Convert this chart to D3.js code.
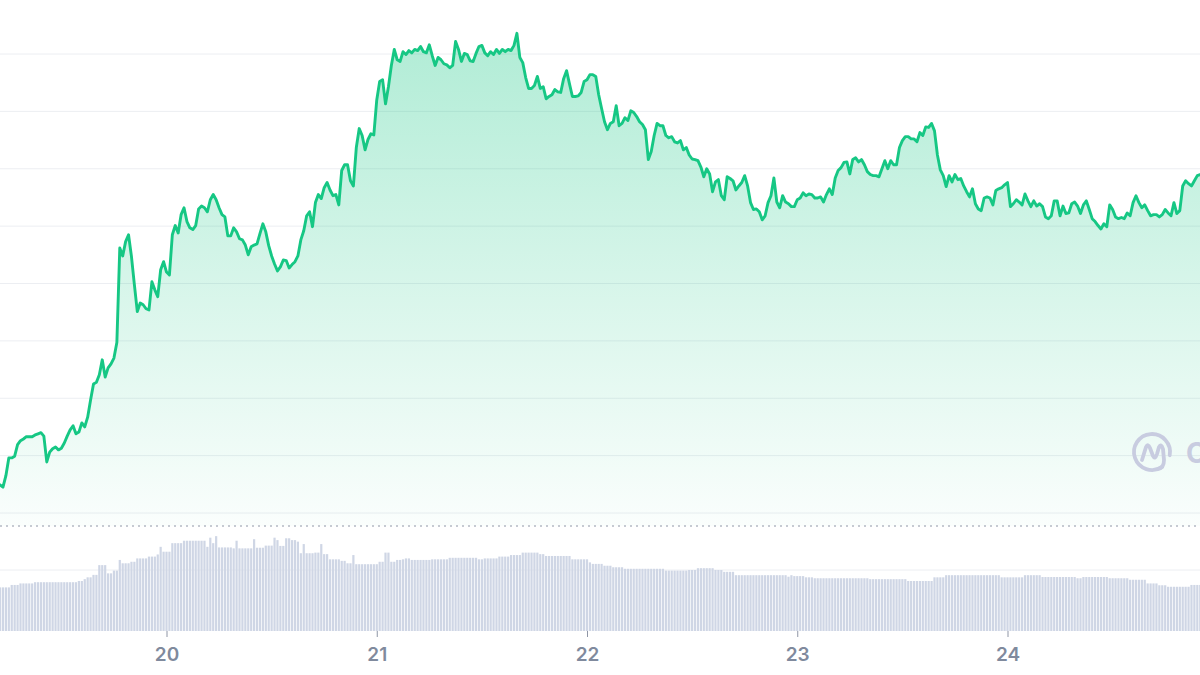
<!DOCTYPE html>
<html>
<head>
<meta charset="utf-8">
<script src="https://cdn.jsdelivr.net/npm/d3@7"></script>
<style>
  body { margin: 0; background: #fff; }
  svg { display: block; }
</style>
</head>
<body>
<div id="chart"></div>
<script>
// 20 minute candles starting 19th 05:00
const start = new Date(2022, 4, 19, 5, 0);
const stepMinutes = 20;

const prices = [
  104.9, 104.5, 106.5, 109.6, 109.6, 109.9, 111.9, 112.6, 112.9, 113.3,
  113.3, 113.3, 113.6, 113.8, 114.0, 113.4, 108.9, 110.6, 111.2, 111.5,
  111.0, 111.3, 112.2, 113.4, 114.5, 115.2, 113.8, 114.1, 115.7, 115.0,
  116.7, 119.7, 122.5, 122.8, 124.1, 126.7, 123.7, 125.3, 126.0, 127.0,
  129.7, 146.2, 144.8, 147.3, 148.5, 144.7, 139.8, 135.1, 136.6, 136.3,
  135.6, 135.4, 140.3, 138.9, 137.7, 142.4, 143.8, 142.0, 141.5, 148.5,
  150.1, 148.8, 152.0, 153.2, 150.8, 149.7, 149.4, 150.1, 153.0, 153.5,
  153.2, 152.5, 154.6, 155.5, 154.6, 153.2, 152.0, 151.6, 148.3, 148.3,
  149.7, 149.0, 147.8, 147.6, 146.7, 145.0, 146.4, 146.7, 146.9, 148.7,
  150.4, 149.0, 146.6, 144.8, 143.4, 142.2, 142.9, 144.1, 144.0, 142.7,
  143.3, 143.8, 144.8, 147.6, 149.2, 151.8, 152.5, 149.9, 154.1, 155.5,
  154.8, 156.7, 157.6, 156.3, 155.3, 155.5, 153.7, 159.7, 160.7, 160.7,
  157.9, 157.0, 163.7, 167.0, 165.8, 163.3, 165.1, 166.1, 165.9, 172.0,
  175.2, 175.5, 171.3, 174.3, 178.0, 180.8, 179.0, 178.7, 180.4, 179.9,
  180.6, 180.2, 180.8, 180.6, 181.3, 180.4, 180.2, 181.6, 179.7, 178.0,
  179.4, 179.0, 178.3, 178.1, 177.6, 178.0, 182.2, 180.8, 178.7, 180.1,
  179.9, 178.8, 178.7, 180.1, 181.3, 181.5, 180.2, 179.7, 180.4, 179.9,
  180.8, 180.1, 180.8, 180.4, 180.8, 180.6, 181.5, 183.6, 179.4, 178.5,
  175.9, 174.0, 174.0, 174.5, 176.1, 174.0, 174.3, 172.2, 172.6, 172.9,
  173.8, 173.4, 173.3, 175.7, 177.1, 174.8, 172.6, 172.6, 172.7, 173.3,
  175.2, 175.5, 176.4, 176.4, 176.1, 172.9, 170.5, 168.2, 166.8, 167.9,
  168.2, 171.0, 167.5, 167.9, 168.9, 168.4, 170.1, 169.8, 169.1, 168.2,
  167.7, 166.8, 161.6, 163.0, 165.8, 167.9, 167.5, 167.5, 165.8, 165.4,
  165.6, 164.7, 164.5, 164.9, 163.3, 163.7, 162.4, 161.7, 161.6, 161.4,
  160.3, 158.6, 160.0, 159.1, 156.0, 157.7, 158.1, 155.3, 154.6, 158.6,
  158.3, 157.9, 156.3, 157.0, 157.6, 158.8, 157.0, 154.1, 152.9, 153.0,
  152.5, 151.1, 151.8, 154.1, 155.3, 158.4, 154.2, 153.2, 155.3, 154.2,
  153.9, 153.4, 153.4, 154.6, 154.9, 155.8, 155.3, 155.6, 155.5, 154.9,
  154.9, 155.1, 154.2, 155.5, 156.5, 155.5, 158.4, 159.7, 160.2, 161.1,
  161.2, 159.1, 161.6, 161.9, 161.2, 161.6, 160.7, 159.5, 159.0, 158.8,
  158.8, 158.6, 160.0, 161.4, 160.0, 161.4, 160.7, 160.7, 163.7, 164.9,
  165.6, 165.6, 165.2, 165.2, 164.7, 166.3, 165.8, 167.3, 167.2, 167.9,
  166.6, 162.4, 159.8, 158.8, 156.9, 158.8, 157.7, 159.0, 158.1, 158.3,
  157.0, 156.0, 155.1, 156.5, 153.9, 153.0, 152.7, 154.9, 155.1, 154.9,
  153.7, 156.2, 156.5, 156.7, 157.2, 157.6, 153.4, 153.9, 154.6, 154.2,
  153.7, 155.6, 154.4, 153.4, 154.4, 153.5, 153.9, 153.4, 151.6, 151.3,
  151.8, 154.4, 154.4, 151.8, 153.5, 152.2, 152.3, 153.9, 154.2, 153.5,
  152.2, 153.7, 154.4, 152.9, 151.3, 150.8, 150.1, 149.5, 150.4, 149.9,
  153.7, 152.9, 151.6, 151.3, 151.5, 151.3, 152.3, 151.8, 154.1, 155.3,
  154.1, 153.2, 153.7, 152.7, 151.8, 152.0, 152.0, 151.6, 152.0, 152.9,
  152.3, 151.8, 154.1, 152.2, 152.7, 157.0, 157.9, 157.4, 157.0, 157.9,
  158.8, 159.0
];

const volumes = [
  14.3, 14.3, 14.3, 14.3, 15.1, 15.1, 15.1, 15.6, 15.6, 15.6,
  15.6, 15.6, 16.0, 16.0, 16.0, 16.0, 16.0, 16.0, 16.0, 16.0,
  16.0, 16.0, 16.0, 16.0, 16.0, 16.0, 16.0, 16.4, 16.4, 17.0,
  17.6, 17.6, 18.4, 18.4, 21.6, 21.6, 21.6, 18.9, 18.9, 19.8,
  19.8, 23.3, 22.2, 22.2, 22.2, 22.7, 22.7, 23.8, 23.8, 23.8,
  23.8, 24.4, 24.4, 24.4, 25.1, 27.6, 26.0, 26.0, 26.0, 28.8,
  28.8, 28.8, 28.8, 29.6, 29.6, 29.6, 29.6, 29.6, 29.6, 29.6,
  29.6, 27.6, 30.6, 28.8, 31.1, 27.4, 27.4, 27.4, 27.4, 27.4,
  27.1, 29.6, 27.1, 27.1, 27.1, 27.1, 27.1, 30.1, 27.3, 27.3,
  27.3, 28.0, 28.0, 28.0, 30.6, 29.8, 27.9, 27.9, 30.4, 30.4,
  29.8, 29.8, 29.3, 25.5, 28.5, 25.5, 25.5, 25.5, 25.7, 25.7,
  28.5, 25.2, 25.2, 23.5, 23.5, 23.5, 23.5, 23.0, 23.0, 22.2,
  22.2, 24.9, 21.9, 21.9, 21.9, 21.9, 21.9, 21.9, 21.9, 21.9,
  22.7, 22.7, 25.7, 25.7, 22.7, 22.7, 23.3, 23.3, 23.5, 23.8,
  23.8, 23.3, 23.3, 23.3, 23.3, 23.3, 23.3, 23.3, 23.5, 23.5,
  23.5, 23.5, 23.5, 23.5, 24.0, 24.0, 24.0, 24.0, 24.0, 24.0,
  24.0, 24.0, 24.0, 24.0, 23.5, 23.5, 23.8, 23.8, 23.8, 23.8,
  23.8, 24.4, 24.4, 24.4, 24.4, 24.9, 24.9, 24.9, 24.9, 25.7,
  25.7, 25.7, 25.7, 25.7, 25.7, 25.2, 25.2, 24.6, 24.6, 24.6,
  24.6, 24.6, 24.6, 24.6, 24.6, 24.6, 23.5, 23.5, 23.5, 23.5,
  23.5, 23.5, 22.5, 22.0, 22.0, 22.0, 22.0, 21.4, 21.4, 21.4,
  20.9, 20.9, 20.9, 20.9, 20.4, 20.4, 20.4, 20.4, 20.4, 20.4,
  20.4, 20.4, 20.4, 20.4, 20.4, 20.4, 20.4, 20.4, 19.8, 19.8,
  19.8, 19.8, 19.8, 19.8, 19.8, 19.8, 20.0, 20.0, 20.0, 20.6,
  20.6, 20.6, 20.6, 20.6, 20.6, 20.0, 20.0, 20.0, 19.4, 19.4,
  19.4, 19.4, 18.3, 18.3, 18.3, 18.3, 18.3, 18.3, 18.3, 18.3,
  18.3, 18.3, 18.3, 18.3, 18.3, 18.3, 18.3, 18.3, 18.3, 18.3,
  17.8, 18.3, 18.0, 18.0, 18.0, 18.0, 17.6, 17.6, 17.6, 17.3,
  17.3, 17.3, 17.3, 17.3, 17.3, 17.3, 17.3, 17.3, 17.3, 17.3,
  17.3, 17.3, 17.3, 17.3, 17.3, 17.3, 17.3, 17.3, 17.0, 17.0,
  17.0, 17.0, 17.0, 17.0, 17.0, 17.0, 17.0, 17.0, 17.0, 17.0,
  17.0, 16.4, 16.4, 16.4, 16.4, 16.4, 16.4, 16.4, 16.4, 16.4,
  17.6, 17.6, 17.6, 17.6, 18.3, 18.3, 18.3, 18.3, 18.3, 18.3,
  18.3, 18.3, 18.3, 18.3, 18.3, 18.3, 18.3, 18.3, 18.3, 18.3,
  18.3, 18.3, 18.3, 17.6, 17.6, 17.6, 17.6, 17.6, 17.6, 17.6,
  17.6, 18.3, 18.3, 18.3, 18.3, 18.3, 18.3, 17.7, 17.7, 17.7,
  17.7, 17.7, 17.7, 17.7, 17.7, 17.7, 17.7, 17.7, 17.7, 17.3,
  17.3, 17.7, 17.7, 17.7, 17.7, 17.7, 17.7, 17.7, 17.7, 17.7,
  17.3, 17.3, 17.3, 17.3, 17.3, 17.3, 17.3, 16.8, 16.8, 16.8,
  16.8, 16.8, 16.8, 15.6, 15.6, 15.6, 15.6, 15.0, 15.0, 15.0,
  14.5, 14.5, 14.5, 14.5, 14.5, 14.5, 14.5, 14.5, 15.1, 15.1,
  15.1, 15.1
];

const dayTicks = [20, 21, 22, 23, 24];
const priceTicks = [100, 110, 120, 130, 140, 150, 160, 170, 180];
const volumeTicks = [20];

const data = prices.map((p, i) => ({
  t: new Date(start.getTime() + i * stepMinutes * 60000),
  price: p,
  volume: volumes[i]
}));

const width = 1200;
const height = 675;
const paneBottom = 526;
const volBottom = 631;

const svg = d3.select("#chart")
  .append("svg")
  .attr("width", width)
  .attr("height", height);

const x = d3.scaleTime()
  .domain([new Date(2022, 4, 19), new Date(2022, 4, 25)])
  .range([-43.75, 1217.75]);

const y = d3.scaleLinear()
  .domain([100, 180])
  .range([513, 54]);

const yVol = d3.scaleLinear()
  .domain([0, 20])
  .range([volBottom, 570]);

// gradient under the line
const defs = svg.append("defs");
const grad = defs.append("linearGradient")
  .attr("id", "areaGrad")
  .attr("gradientUnits", "userSpaceOnUse")
  .attr("x1", 0).attr("x2", 0)
  .attr("y1", 30).attr("y2", paneBottom);
grad.append("stop").attr("offset", "0%").attr("stop-color", "#16c784").attr("stop-opacity", 0.34);
grad.append("stop").attr("offset", "55%").attr("stop-color", "#16c784").attr("stop-opacity", 0.16);
grad.append("stop").attr("offset", "100%").attr("stop-color", "#16c784").attr("stop-opacity", 0.02);

// grid
svg.append("g")
  .selectAll("line")
  .data(priceTicks)
  .enter()
  .append("line")
  .attr("x1", 0)
  .attr("x2", width)
  .attr("y1", d => y(d))
  .attr("y2", d => y(d))
  .attr("stroke", "#eceef2")
  .attr("stroke-width", 1);

svg.append("g")
  .selectAll("line")
  .data(volumeTicks)
  .enter()
  .append("line")
  .attr("x1", 0)
  .attr("x2", width)
  .attr("y1", d => yVol(d))
  .attr("y2", d => yVol(d))
  .attr("stroke", "#eceef2")
  .attr("stroke-width", 1);

const area = d3.area()
  .x(d => x(d.t))
  .y0(paneBottom)
  .y1(d => y(d.price));

svg.append("path")
  .datum(data)
  .attr("d", area)
  .attr("fill", "url(#areaGrad)");

// watermark (cut by the right edge, like the original)
const wm = svg.append("g")
  .attr("transform", "translate(1152,452)")
  .attr("fill", "none")
  .attr("stroke", "#c8cce0")
  .attr("stroke-width", 3.8)
  .attr("stroke-linecap", "round")
  .attr("stroke-linejoin", "round");
wm.append("path")
  .attr("d", d3.arc()({ innerRadius: 18, outerRadius: 18, startAngle: 2.55, endAngle: 2 * Math.PI + 1.75 }));
wm.append("path")
  .attr("d", "M -10 8 L -6 -5 Q -4 -9 -2 -4 L 1 4 Q 3 8 5 2 L 7 -5 Q 9 -9 11 -3 L 12 8 Q 12 16 6 17");
svg.append("text")
  .attr("x", 1186)
  .attr("y", 463)
  .attr("font-family", "Inter, 'Noto Sans', sans-serif")
  .attr("font-size", 28)
  .attr("font-weight", 700)
  .attr("fill", "#c8cce0")
  .text("CoinMarketCap");

// separator between panes
svg.append("line")
  .attr("x1", 0)
  .attr("x2", width)
  .attr("y1", paneBottom)
  .attr("y2", paneBottom)
  .attr("stroke", "#b4b9c4")
  .attr("stroke-width", 1.5)
  .attr("stroke-dasharray", "2,4");

// volume
svg.append("g")
  .selectAll("rect")
  .data(data)
  .enter()
  .append("rect")
  .attr("x", d => x(d.t) - 1.1)
  .attr("width", 2.2)
  .attr("y", d => yVol(d.volume))
  .attr("height", d => volBottom - yVol(d.volume))
  .attr("fill", "#cfd6e5");

const line = d3.line()
  .x(d => x(d.t))
  .y(d => y(d.price));

svg.append("path")
  .datum(data)
  .attr("d", line)
  .attr("fill", "none")
  .attr("stroke", "#16c784")
  .attr("stroke-width", 2.9)
  .attr("stroke-linejoin", "round")
  .attr("stroke-linecap", "round");

const xAxis = d3.axisBottom(x)
  .tickValues(dayTicks.map(d => new Date(2022, 4, d)))
  .tickFormat(d3.timeFormat("%d"))
  .tickSize(6)
  .tickPadding(11);

const gx = svg.append("g")
  .attr("transform", `translate(0, ${volBottom})`)
  .call(xAxis);
gx.select(".domain").remove();
gx.selectAll(".tick line").attr("stroke", "#8f96a6");
gx.selectAll(".tick text")
  .attr("fill", "#808a9d")
  .attr("font-family", "Inter, 'Noto Sans', sans-serif")
  .attr("font-size", 19)
  .attr("font-weight", 600);
</script>
</body>
</html>
